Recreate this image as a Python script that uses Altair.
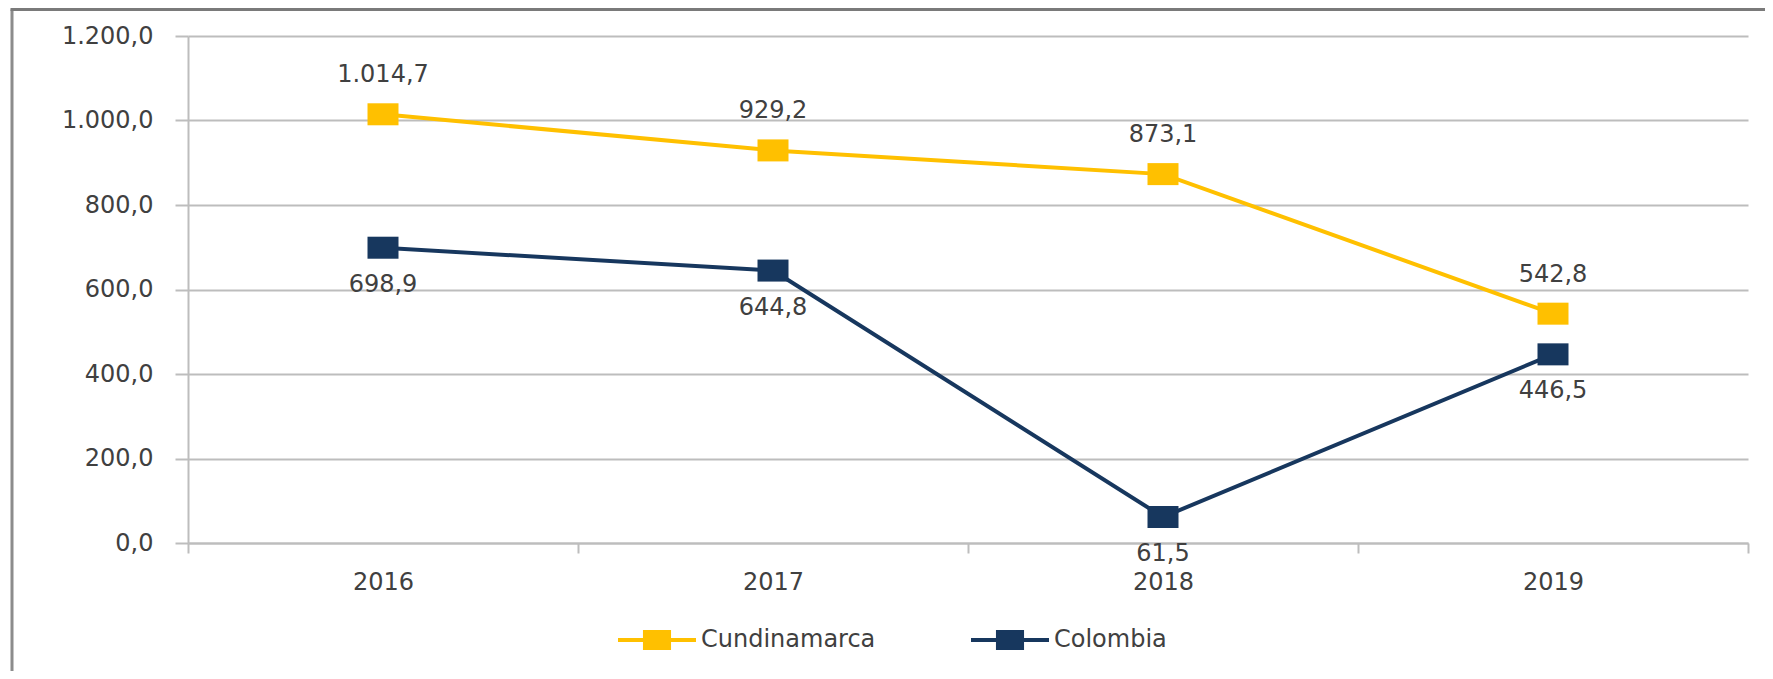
import altair as alt
import pandas as pd

years = ["2016", "2017", "2018", "2019"]
series_names = ["Cundinamarca", "Colombia"]
cundinamarca = [1014.7, 929.2, 873.1, 542.8]
colombia = [698.9, 644.8, 61.5, 446.5]
y_ticks = [0, 200, 400, 600, 800, 1000, 1200]
colors = ["#FFC000", "#17375E"]

rows = []
for y, v in zip(years, cundinamarca):
    rows.append({"year": y, "serie": series_names[0], "value": v})
for y, v in zip(years, colombia):
    rows.append({"year": y, "serie": series_names[1], "value": v})
df = pd.DataFrame(rows)

FONT = "DejaVu Sans"
FS = 24
TXT = "#404040"
GRID = "#bdbdbd"
W, H = 1560, 507

fmt_value = "replace(replace(replace(format(datum.value, ',.1f'), ',', '#'), '.', ','), '#', '.')"

x_enc = alt.X(
    "year:N",
    sort=years,
    bandPosition=0.5,
    scale=alt.Scale(type="band", paddingInner=0, paddingOuter=0),
    axis=alt.Axis(
        title=None, labelAngle=0, grid=False, domainColor=GRID, domainWidth=2,
        tickColor=GRID, tickWidth=2, tickSize=10, tickBand="extent",
        labelFont=FONT, labelFontSize=FS, labelColor=TXT, labelPadding=29,
        labelBaseline="middle",
    ),
)
y_enc = alt.Y(
    "value:Q",
    scale=alt.Scale(domain=[0, 1200], nice=False),
    axis=alt.Axis(
        title=None, values=y_ticks, grid=True, gridColor=GRID, gridWidth=2,
        domain=True, domainColor=GRID, domainWidth=2, tickColor=GRID,
        tickWidth=2, tickSize=13, labelFont=FONT, labelFontSize=FS,
        labelColor=TXT, labelPadding=22, labelExpr=fmt_value,
    ),
)
color_scale = alt.Scale(domain=series_names, range=colors)

legend_path = "M-1,-0.05H-0.36V-0.256H0.36V-0.05H1V0.05H0.36V0.256H-0.36V0.05H-1Z"
legend = alt.Legend(
    title=None, orient="none", legendX=430, legendY=565,
    direction="horizontal", symbolType=legend_path, symbolSize=6084,
    symbolStrokeWidth=0, symbolOpacity=1,
    labelFont=FONT, labelFontSize=FS, labelColor=TXT, labelOffset=5,
    labelLimit=400, columnPadding=95, padding=0,
)
color_enc = alt.Color("serie:N", scale=color_scale, sort=series_names, legend=legend)

base = alt.Chart(df)

lines = base.mark_line(strokeWidth=4).encode(
    x=x_enc, y=y_enc, color=color_enc,
)

points = base.mark_point(
    filled=True, opacity=1, size=961, shape="M-1,-0.71H1V0.71H-1Z"
).encode(x=x_enc, y=y_enc, color=color_enc)

labels_top = base.transform_filter(
    alt.datum.serie == series_names[0]
).transform_calculate(label=fmt_value).mark_text(
    font=FONT, fontSize=FS, color=TXT, dy=-39, baseline="middle"
).encode(x=x_enc, y=y_enc, text="label:N")

labels_bottom = base.transform_filter(
    alt.datum.serie == series_names[1]
).transform_calculate(label=fmt_value).mark_text(
    font=FONT, fontSize=FS, color=TXT, dy=37, baseline="middle"
).encode(x=x_enc, y=y_enc, text="label:N")

frame_data = alt.Data(values=[{"k": 1}])
frame_left = alt.Chart(frame_data).mark_rule(color="#8c8c8c", strokeWidth=3).encode(
    x=alt.value(-176), y=alt.value(-26.5), y2=alt.value(700)
)
frame_top = alt.Chart(frame_data).mark_rule(color="#7a7a7a", strokeWidth=3).encode(
    x=alt.value(-177.5), x2=alt.value(1700), y=alt.value(-26.5)
)

chart = alt.layer(
    lines, points, labels_top, labels_bottom, frame_left, frame_top
).properties(
    width=W, height=H,
    autosize=alt.AutoSizeParams(type="none"),
    padding={"left": 180, "top": 28, "right": 17, "bottom": 128},
).configure_view(stroke="transparent")

chart.save("out.html", embed_options={"renderer": "svg", "actions": False})
